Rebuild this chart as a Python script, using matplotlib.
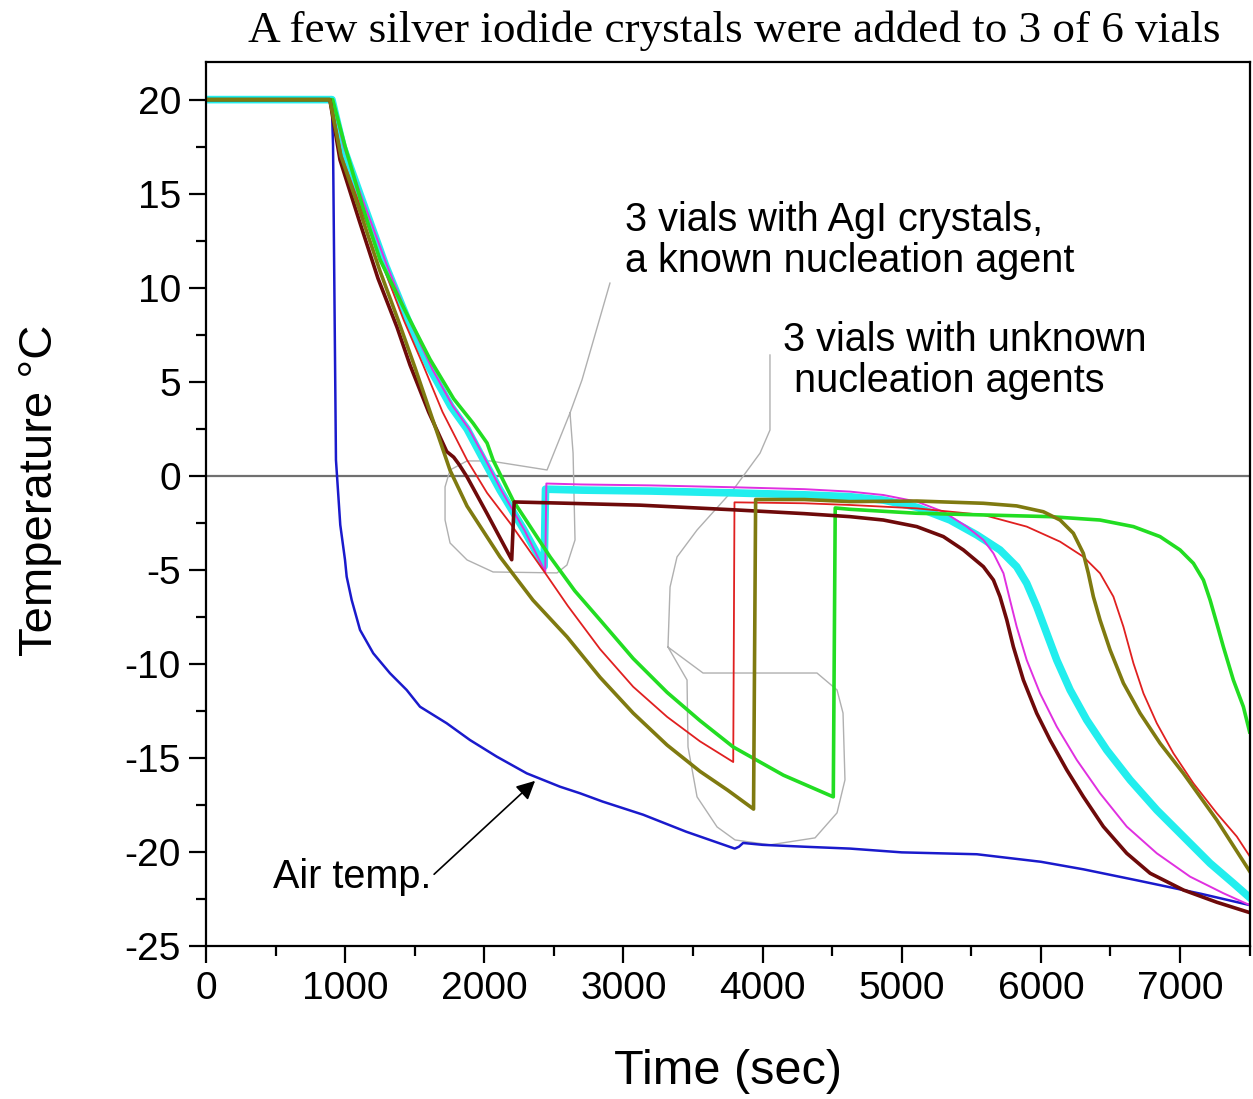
import numpy as np
import matplotlib.pyplot as plt
from matplotlib.ticker import MultipleLocator

plt.rcParams['font.family'] = ['Liberation Sans', 'DejaVu Sans']
plt.rcParams['axes.unicode_minus'] = False

# air temperature
t_air = [0, 890, 905, 913, 934, 965, 999, 1011, 1047, 1107, 1202, 1322, 1442, 1538, 1730, 1897,
         2089, 2305, 2544, 2688, 2850, 3142, 3450, 3800, 3830, 3860, 4000, 4300, 4630, 5000, 5540,
         6000, 6305, 6700, 7150, 7500]
T_air = [20, 20, 19.5, 17.6, 0.85, -2.6, -4.46, -5.35, -6.59, -8.18, -9.42, -10.48, -11.37, -12.26,
         -13.14, -14.03, -14.91, -15.8, -16.51, -16.86, -17.3, -18.0, -18.9, -19.8, -19.7, -19.5,
         -19.6, -19.7, -19.8, -20.0, -20.1, -20.5, -20.9, -21.5, -22.2, -22.8]

# vials with AgI crystals
t_maroon = [0, 890, 963, 1100, 1236, 1373, 1466, 1600, 1682, 1730, 1780, 1820, 1876, 2020, 2197,
            2215, 2600, 3120, 3800, 4300, 4628, 4868, 5108, 5299, 5443, 5587, 5659, 5706, 5755,
            5802, 5874, 5970, 6066, 6186, 6305, 6449, 6617, 6785, 7024, 7264, 7500]
T_maroon = [20, 20, 16.8, 13.6, 10.5, 7.9, 5.9, 3.4, 2.07, 1.3, 1.0, 0.6, -0.05, -2.0, -4.45,
            -1.38, -1.45, -1.55, -1.8, -2.0, -2.16, -2.34, -2.69, -3.22, -3.93, -4.82, -5.53, -6.41,
            -7.65, -9.07, -10.84, -12.61, -14.03, -15.62, -17.04, -18.63, -20.05, -21.11, -22.0,
            -22.65, -23.2]

t_cyan = [0, 905, 985, 1120, 1290, 1450, 1610, 1760, 1876, 1970, 2113, 2280, 2430, 2440, 2700,
          3200, 3800, 4300, 4628, 4868, 5108, 5347, 5539, 5706, 5826, 5898, 5970, 6042, 6114,
          6210, 6329, 6473, 6641, 6833, 7024, 7216, 7383, 7500]
T_cyan = [20, 20, 17.5, 14.7, 11.2, 8.3, 5.7, 3.7, 2.5, 1.2, -0.75, -2.8, -4.8, -0.7, -0.75,
          -0.8, -0.9, -1.0, -1.1, -1.28, -1.66, -2.34, -3.13, -3.93, -4.82, -5.7, -6.94, -8.36,
          -9.78, -11.37, -12.96, -14.56, -16.15, -17.75, -19.16, -20.58, -21.64, -22.4]

t_magenta = [0, 910, 990, 1125, 1300, 1460, 1625, 1775, 1890, 1985, 2125, 2290, 2438, 2446, 2700,
             3200, 3800, 4300, 4628, 4868, 5108, 5299, 5467, 5587, 5659, 5731, 5778, 5826, 5898,
             5994, 6114, 6258, 6425, 6617, 6833, 7072, 7311, 7500]
T_magenta = [20, 20, 17.5, 14.7, 11.2, 8.3, 5.7, 3.7, 2.5, 1.2, -0.8, -2.9, -5.1, -0.4, -0.45,
             -0.5, -0.6, -0.7, -0.83, -1.01, -1.36, -1.9, -2.69, -3.4, -4.11, -5.17, -6.59, -8.01,
             -9.78, -11.55, -13.32, -15.09, -16.86, -18.63, -20.05, -21.29, -22.17, -22.8]

# vials with unknown agents
t_red = [0, 895, 975, 1100, 1270, 1420, 1560, 1700, 1876, 2020, 2185, 2423, 2600, 2832, 3070,
         3314, 3550, 3789, 3798, 4300, 4628, 5108, 5587, 5898, 6138, 6305, 6425, 6521, 6593, 6665,
         6737, 6833, 6952, 7096, 7264, 7408, 7500]
T_red = [20, 20, 17.0, 14.5, 11.2, 8.3, 5.9, 3.4, 0.85, -0.9, -2.5, -5.0, -6.9, -9.2, -11.2,
         -12.8, -14.1, -15.2, -1.4, -1.45, -1.54, -1.72, -2.07, -2.69, -3.49, -4.29, -5.17, -6.41,
         -8.01, -9.95, -11.55, -13.14, -14.73, -16.33, -17.92, -19.16, -20.2]

t_olive = [0, 890, 970, 1100, 1250, 1380, 1500, 1620, 1754, 1876, 2113, 2350, 2595, 2832, 3070,
           3314, 3551, 3750, 3935, 3950, 4300, 4628, 5108, 5587, 5826, 6018, 6138, 6233, 6305,
           6341, 6377, 6425, 6497, 6593, 6713, 6856, 7024, 7264, 7500]
T_olive = [20, 20, 17.0, 14.2, 10.9, 8.3, 5.8, 3.2, 0.3, -1.6, -4.3, -6.6, -8.55, -10.7, -12.6,
           -14.3, -15.7, -16.7, -17.7, -1.25, -1.25, -1.36, -1.33, -1.45, -1.59, -1.9, -2.34, -3.04,
           -4.11, -5.17, -6.41, -7.65, -9.24, -11.01, -12.61, -14.2, -15.8, -18.28, -21.0]

t_green = [0, 910, 1000, 1130, 1250, 1430, 1610, 1780, 1920, 2020, 2063, 2207, 2473, 2650, 2832,
           3070, 3314, 3550, 3789, 4150, 4508, 4522, 4628, 5108, 5587, 6066, 6425, 6665, 6856,
           7000, 7096, 7168, 7216, 7264, 7311, 7383, 7455, 7500]
T_green = [20, 20, 17.5, 14.2, 11.5, 8.8, 6.2, 4.1, 2.8, 1.75, 0.85, -1.3, -4.3, -6.1, -7.65,
           -9.7, -11.5, -13.0, -14.4, -15.9, -17.05, -1.7, -1.77, -1.98, -2.07, -2.16, -2.34, -2.69,
           -3.22, -3.93, -4.64, -5.53, -6.59, -7.83, -9.07, -10.84, -12.26, -13.6]

# hand drawn callout outlines
callout1_t = [2903, 2702, 2616, 2451, 2041, 1876, 1754, 1718, 1718, 1754, 1876, 2063, 2523, 2594,
              2652, 2638, 2616]
callout1_T = [10.25, 5.1, 3.35, 0.32, 0.8, 0.8, 0.32, -0.58, -2.34, -3.56, -4.46, -5.1, -5.15, -4.73,
              -3.4, 1.22, 3.35]
callout2_t = [4053, 4053, 3982, 3788, 3529, 3385, 3335, 3320, 3572, 4391, 4535, 4578, 4592, 4535,
              4377, 4053, 3802, 3673, 3529, 3464, 3457, 3320]
callout2_T = [6.43, 2.44, 1.22, -0.74, -2.87, -4.30, -5.9, -9.09, -10.47, -10.47, -11.37, -12.6, -16.15,
              -17.9, -19.23, -19.6, -19.34, -18.65, -17.05, -14.4, -10.84, -9.09]

fig = plt.figure(figsize=(12.53, 10.99), dpi=100)
ax = fig.add_axes([0.1644, 0.1388, 0.8329, 0.8048])

ax.axhline(0, color='#707070', lw=1.6, zorder=1)
ax.plot(callout1_t, callout1_T, color='#b0b0b0', lw=1.0, zorder=1)
ax.plot(callout2_t, callout2_T, color='#b0b0b0', lw=1.0, zorder=1)

ax.plot(t_air, T_air, color='#1a1acc', lw=1.8)
ax.plot(t_cyan, T_cyan, color='#22eeee', lw=5.5)
ax.plot(t_magenta, T_magenta, color='#e030e0', lw=1.4)
ax.plot(t_red, T_red, color='#e02020', lw=1.3)
ax.plot(t_green, T_green, color='#22dd22', lw=2.6)
ax.plot(t_maroon, T_maroon, color='#6e0a0a', lw=2.6)
ax.plot(t_olive, T_olive, color='#7f7a10', lw=2.6)

ax.set_xlim(0, 7500)
ax.set_ylim(-25, 22)
ax.xaxis.set_major_locator(MultipleLocator(1000))
ax.xaxis.set_minor_locator(MultipleLocator(500))
ax.yaxis.set_major_locator(MultipleLocator(5))
ax.yaxis.set_minor_locator(MultipleLocator(2.5))
ax.tick_params(which='major', direction='out', length=12, width=1.6, labelsize=28, pad=6)
ax.tick_params(which='minor', direction='out', length=7, width=1.6)
for s in ax.spines.values():
    s.set_linewidth(1.6)

ax.set_xlabel("Time (sec)", fontsize=35, labelpad=30)
ax.set_ylabel("Temperature °C", fontsize=34)
ax.yaxis.set_label_coords(-0.138, 0.516)

ax.text(3011, 12.5, "3 vials with AgI crystals,\na known nucleation agent",
        fontsize=28.5, ha='left', va='center', linespacing=1.1)
ax.text(4147, 6.15, "3 vials with unknown\n nucleation agents",
        fontsize=28.5, ha='left', va='center', linespacing=1.1)
ax.annotate("Air temp.", xy=(2365, -16.2), xytext=(481, -21.3), fontsize=28.5,
            ha='left', va='center',
            arrowprops=dict(arrowstyle='-|>', color='black', lw=1.2, mutation_scale=28,
                            shrinkA=0, shrinkB=0, relpos=(1.0, 0.5)))

fig.text(0.586, 0.972, "A few silver iodide crystals were added to 3 of 6 vials",
         family='Liberation Serif', fontsize=32.5, ha='center', va='center')

fig.savefig("out.png", dpi=100)
